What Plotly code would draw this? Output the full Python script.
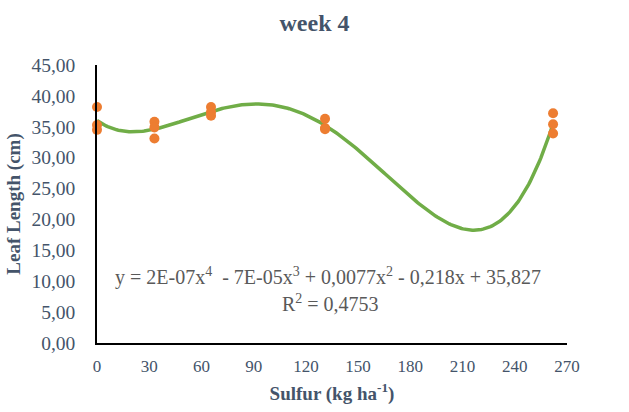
import numpy as np
import plotly.graph_objects as go

# Sulfur dose positions as read against the x axis of the picture
sulfur = [0, 0, 0, 33, 33, 33, 65.5, 65.5, 65.5, 131, 131, 131, 262, 262, 262]
leaf_length = [38.2, 35.3, 34.5, 35.8, 34.9, 33.1, 38.2, 37.4, 36.8, 36.3, 34.8, 34.6, 37.2, 35.4, 33.9]

x_ticks = [0, 30, 60, 90, 120, 150, 180, 210, 240, 270]
y_ticks = [0, 5, 10, 15, 20, 25, 30, 35, 40, 45]

equation = "y = 2E-07x<sup>4</sup>  - 7E-05x<sup>3</sup> + 0,0077x<sup>2</sup> - 0,218x + 35,827"
r2_text = "R<sup>2</sup> = 0,4753"

# 4th order polynomial trendline, like the spreadsheet trendline
coef = np.polyfit(sulfur, leaf_length, 4)
xs = np.linspace(min(sulfur), max(sulfur), 300)
ys = np.polyval(coef, xs)

font_family = "Liberation Serif, Times New Roman, serif"
axis_color = "#44546A"

fig = go.Figure()
fig.add_trace(go.Scatter(x=xs, y=ys, mode="lines",
                         line=dict(color="#70AD47", width=3.5),
                         hoverinfo="skip", showlegend=False))
fig.add_trace(go.Scatter(x=sulfur, y=leaf_length, mode="markers",
                         marker=dict(color="#ED7D31", size=10),
                         cliponaxis=False, showlegend=False))

fig.update_layout(
    width=629, height=412,
    margin=dict(l=97, r=62, t=65, b=69),
    paper_bgcolor="white", plot_bgcolor="white",
    separators=", ",
    font=dict(family=font_family, color=axis_color, size=18),
    title=dict(text="<b>week 4</b>", x=0.5, xanchor="center", y=0.944, yanchor="middle",
               font=dict(family=font_family, size=24, color=axis_color)),
    xaxis=dict(range=[0, 270], tickvals=x_ticks, ticktext=[str(v) for v in x_ticks],
               showline=True, linecolor="black", linewidth=1.5, showgrid=False,
               zeroline=False, ticks="outside", ticklen=7, tickcolor="rgba(0,0,0,0)",
               automargin=False,
               tickfont=dict(family=font_family, size=17, color=axis_color),
               title=dict(text="<b>Sulfur (kg ha<sup>-1</sup>)</b>", standoff=12,
                          font=dict(family=font_family, size=19, color=axis_color))),
    yaxis=dict(range=[0, 45], tickvals=y_ticks, tickformat=".2f",
               showline=True, linecolor="black", linewidth=1.5, showgrid=False,
               zeroline=False, ticks="outside", ticklen=16, tickcolor="rgba(0,0,0,0)",
               automargin=False,
               tickfont=dict(family=font_family, size=19.5, color=axis_color),
               title=dict(text="<b>Leaf Length (cm)</b>", standoff=6,
                          font=dict(family=font_family, size=19, color=axis_color))),
    annotations=[
        dict(text=equation, xref="paper", yref="paper", x=0.491, y=0.241,
             xanchor="center", yanchor="middle", showarrow=False,
             font=dict(family=font_family, size=20, color="#595959")),
        dict(text=r2_text, xref="paper", yref="paper", x=0.496, y=0.144,
             xanchor="center", yanchor="middle", showarrow=False,
             font=dict(family=font_family, size=20, color="#595959")),
    ],
)

fig.write_html("out.html", config={"displayModeBar": False},
               post_script="document.body.style.margin='0';document.body.style.overflow='hidden';")
